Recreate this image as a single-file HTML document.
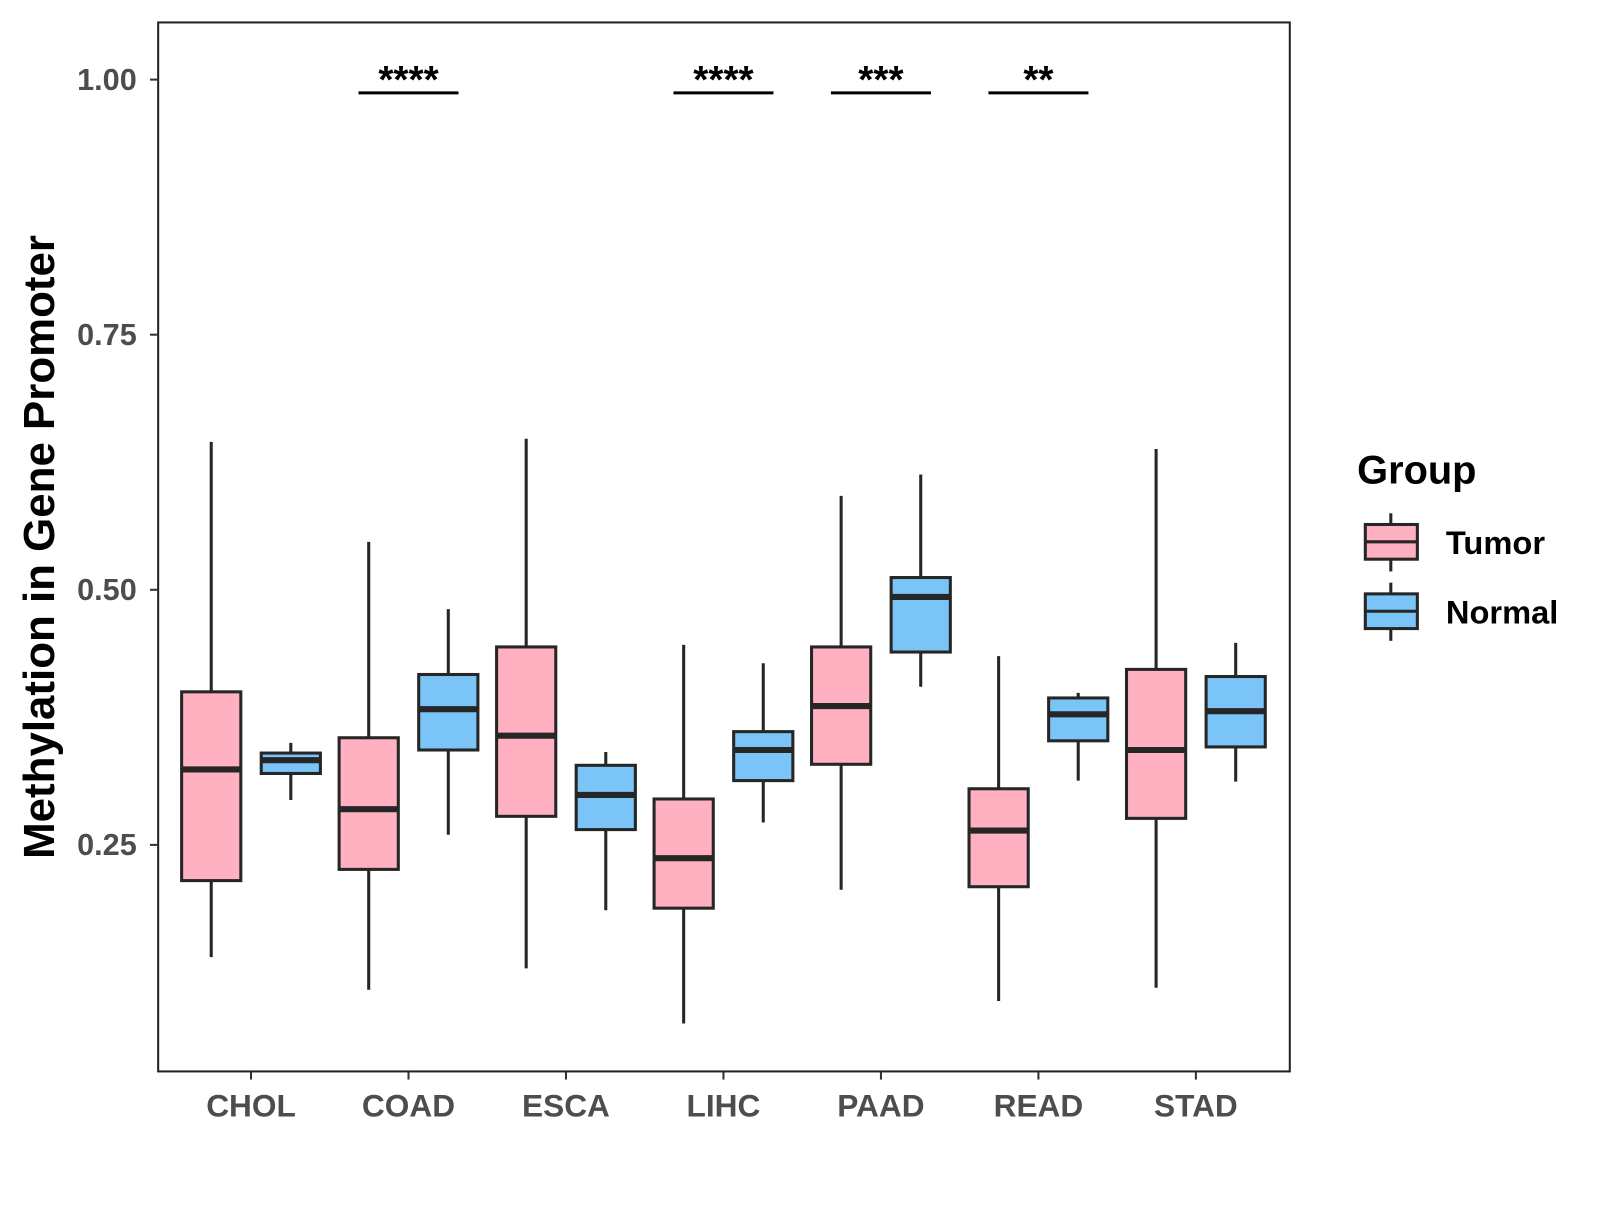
<!DOCTYPE html>
<html><head><meta charset="utf-8"><style>
html,body{margin:0;padding:0;background:#fff;}
svg text{font-family:"Liberation Sans",Arial,sans-serif;font-weight:bold;}
</style></head><body>
<svg id="chart" width="1600" height="1200" viewBox="0 0 1568 1176" xmlns="http://www.w3.org/2000/svg">
<rect x="155" y="22" width="1109" height="1028" fill="#fff" stroke="#222" stroke-width="2"/>
<g id="marks"></g>
<text x="0" y="0" transform="translate(53,536) rotate(-90)" text-anchor="middle" font-size="43" fill="#000">Methylation in Gene Promoter</text>
<g>
<text x="1330" y="474" font-size="39" fill="#000">Group</text>
<g>
<line x1="1363" y1="503" x2="1363" y2="560" stroke="#262626" stroke-width="3"/>
<rect x="1338" y="514" width="51" height="34" fill="#FFB1C1" stroke="#262626" stroke-width="3"/>
<line x1="1338" y1="531" x2="1389" y2="531" stroke="#262626" stroke-width="3"/>
<text x="1417" y="543" font-size="32" fill="#000">Tumor</text></g>
<g>
<line x1="1363" y1="571" x2="1363" y2="628" stroke="#262626" stroke-width="3"/>
<rect x="1338" y="582" width="51" height="34" fill="#7BC4F7" stroke="#262626" stroke-width="3"/>
<line x1="1338" y1="599" x2="1389" y2="599" stroke="#262626" stroke-width="3"/>
<text x="1417" y="611" font-size="32" fill="#000">Normal</text></g>
</g>
</svg>
<script>
const categories=["CHOL","COAD","ESCA","LIHC","PAAD","READ","STAD"];
const tumorLow=[0.140,0.108,0.129,0.075,0.206,0.097,0.110];
const tumorQ1=[0.215,0.226,0.278,0.188,0.329,0.209,0.276];
const tumorMed=[0.324,0.285,0.357,0.237,0.386,0.264,0.343];
const tumorQ3=[0.400,0.355,0.444,0.295,0.444,0.305,0.422];
const tumorHigh=[0.645,0.547,0.648,0.446,0.592,0.435,0.638];
const normalLow=[0.294,0.260,0.186,0.272,0.405,0.313,0.312];
const normalQ1=[0.320,0.343,0.265,0.313,0.439,0.352,0.346];
const normalMed=[0.333,0.383,0.299,0.343,0.493,0.378,0.381];
const normalQ3=[0.340,0.417,0.328,0.361,0.512,0.394,0.415];
const normalHigh=[0.350,0.481,0.341,0.428,0.613,0.399,0.448];
const sigLabels=["","****","","****","***","**",""];
const yTicks=[0.25,0.5,0.75,1.0];
const yTickLabels=["0.25","0.50","0.75","1.00"];

const NS="http://www.w3.org/2000/svg";
const g=document.getElementById('marks');
const yS=v=>78+(1-v)*1000;
const xS=i=>246+i*154.33;
function mk(t,a){const e=document.createElementNS(NS,t);for(const k in a)e.setAttribute(k,a[k]);g.appendChild(e);return e;}
yTicks.forEach((v,i)=>{
  const t=mk('line',{x1:147,x2:155,y1:yS(v),y2:yS(v),stroke:'#333','stroke-width':2});
  
  
  const l=mk('text',{x:134,y:yS(v)+10,'text-anchor':'end','font-size':30,fill:'#4d4d4d'});
  l.textContent=yTickLabels[i];
  
  
});
categories.forEach((c,i)=>{
  const x=xS(i);
  const t=mk('line',{x1:x,x2:x,y1:1050,y2:1058,stroke:'#333','stroke-width':2});
  
  
  const l=mk('text',{x:x,y:1094,'text-anchor':'middle','font-size':31,fill:'#4d4d4d'});
  l.textContent=c;
  
  
  [[-39,'#FFB1C1',tumorLow,tumorQ1,tumorMed,tumorQ3,tumorHigh,'tumor'],[39,'#7BC4F7',normalLow,normalQ1,normalMed,normalQ3,normalHigh,'normal']].forEach(s=>{
    const cx=x+s[0];
    const w=mk('line',{x1:cx,x2:cx,y1:yS(s[6][i]),y2:yS(s[2][i]),stroke:'#262626','stroke-width':3});
    
    
    const b=mk('rect',{x:cx-29,width:58,y:yS(s[5][i]),height:yS(s[3][i])-yS(s[5][i]),fill:s[1],stroke:'#262626','stroke-width':3});
    
    
    const m=mk('line',{x1:cx-29,x2:cx+29,y1:yS(s[4][i]),y2:yS(s[4][i]),stroke:'#262626','stroke-width':6});
    
    
  });
  if(sigLabels[i]){
    const sl=mk('line',{x1:x-49,x2:x+49,y1:91,y2:91,stroke:'#000','stroke-width':3});
    
    
    const st=mk('text',{x:x,y:91,'text-anchor':'middle','font-size':38,fill:'#000'});
    st.textContent=sigLabels[i];
    
    
  }
});
</script>
</body></html>
